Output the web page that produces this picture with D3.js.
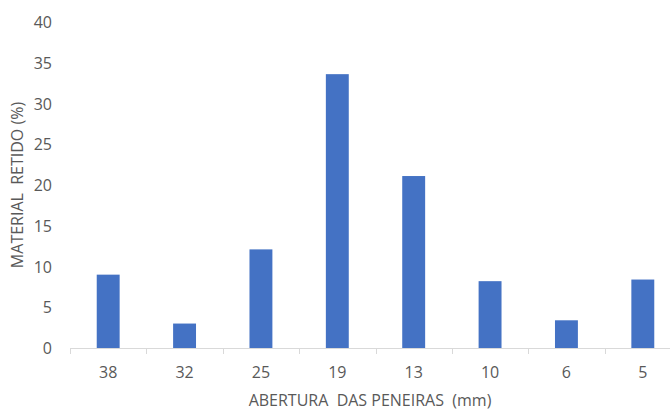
<!DOCTYPE html>
<html>
<head>
<meta charset="utf-8">
<script src="https://cdn.jsdelivr.net/npm/d3@7"></script>
<style>
  body { margin: 0; background: #fff; }
  svg text { font-family: "Open Sans", "Liberation Sans", sans-serif; fill: #595959; }
</style>
</head>
<body>
<div id="chart"></div>
<script>
var sieves = ["38", "32", "25", "19", "13", "10", "6", "5"]
var retained = [9.0, 3.0, 12.1, 33.6, 21.1, 8.2, 3.4, 8.4]
var yTicks = [0, 5, 10, 15, 20, 25, 30, 35, 40]

var width = 670, height = 410
var plot = {left: 70, right: 681, top: 22, bottom: 348}

var svg = d3.select("#chart").append("svg")
  .attr("width", width)
  .attr("height", height)

var x = d3.scaleBand()
  .domain(sieves)
  .range([plot.left, plot.right])
  .paddingInner(0.7)
  .paddingOuter(0.35)

var y = d3.scaleLinear()
  .domain([0, 40])
  .range([plot.bottom, plot.top])

// bars
svg.selectAll("rect.bar")
  .data(sieves)
  .enter().append("rect")
  .attr("class", "bar")
  .attr("x", function(d) { return x(d) })
  .attr("width", x.bandwidth())
  .attr("y", function(d, i) { return y(retained[i]) })
  .attr("height", function(d, i) { return y(0) - y(retained[i]) })
  .attr("fill", "#4472C4")

// x axis, tick marks sit between the categories
var xAxis = svg.append("g").attr("transform", "translate(0," + plot.bottom + ")")
xAxis.append("line")
  .attr("x1", plot.left).attr("x2", plot.right)
  .attr("y1", 0.5).attr("y2", 0.5)
  .attr("stroke", "#d9d9d9")
var step = x.step()
xAxis.selectAll("line.tick")
  .data(d3.range(sieves.length + 1))
  .enter().append("line")
  .attr("class", "tick")
  .attr("x1", function(i) { return Math.round(plot.left + i * step) + 0.5 })
  .attr("x2", function(i) { return Math.round(plot.left + i * step) + 0.5 })
  .attr("y1", 0).attr("y2", 6)
  .attr("stroke", "#d9d9d9")
xAxis.selectAll("text")
  .data(sieves)
  .enter().append("text")
  .attr("x", function(d) { return x(d) + x.bandwidth() / 2 })
  .attr("y", 30)
  .attr("text-anchor", "middle")
  .style("font-size", "16px")
  .text(function(d) { return d })

// y labels (no axis line)
svg.append("g").selectAll("text")
  .data(yTicks)
  .enter().append("text")
  .attr("x", 52)
  .attr("y", function(d) { return y(d) + 6 })
  .attr("text-anchor", "end")
  .style("font-size", "16px")
  .text(function(d) { return d })

// titles
svg.append("text")
  .attr("transform", "translate(23," + 185 + ") rotate(-90)")
  .attr("text-anchor", "middle")
  .style("font-size", "16px")
  .style("white-space", "pre")
  .text("MATERIAL  RETIDO (%)")

svg.append("text")
  .attr("x", 370)
  .attr("y", 406)
  .attr("text-anchor", "middle")
  .style("font-size", "16px")
  .style("white-space", "pre")
  .text("ABERTURA  DAS PENEIRAS  (mm)")
</script>
</body>
</html>
